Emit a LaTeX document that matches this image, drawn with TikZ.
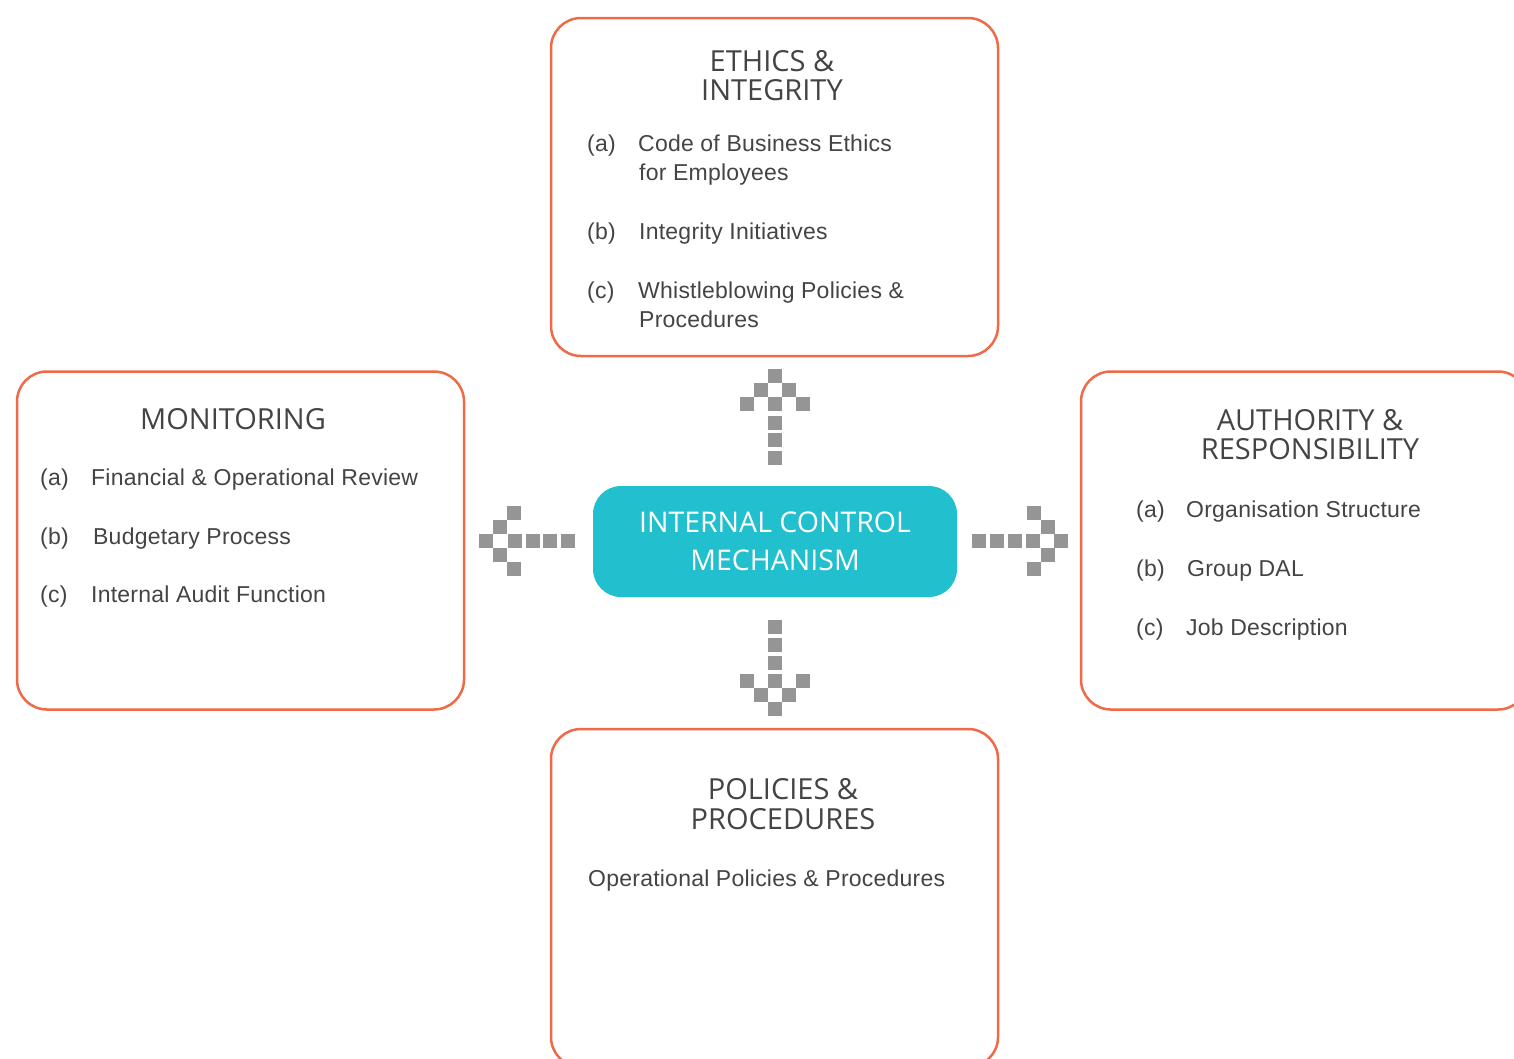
\documentclass[tikz,border=0pt]{standalone}
\usepackage{fontspec}
\setmainfont[LetterSpace=1]{Liberation Sans}
\newfontfamily\titlefont{Open Sans}
\definecolor{frameor}{HTML}{EF6A46}
\definecolor{cyanbox}{HTML}{22BFCF}
\definecolor{sqgray}{HTML}{959595}
\definecolor{txt}{HTML}{444444}
\begin{document}
\begin{tikzpicture}[x=1pt,y=-1pt,
  frame/.style={draw=frameor, line width=2.5pt, rounded corners=30pt, fill=white, minimum width=447pt, minimum height=338pt, inner sep=0},
  centerbox/.style={fill=cyanbox, draw=none, rounded corners=28pt, minimum width=364pt, minimum height=111pt, inner sep=0},
  title/.style={font=\titlefont\fontsize{29}{29}\selectfont, text=txt, anchor=base, inner sep=0},
  ctitle/.style={font=\titlefont\fontsize{28.5}{28.5}\selectfont, text=white, anchor=base, inner sep=0},
  item/.style={font=\fontsize{23}{23}\selectfont, text=txt, anchor=base west, inner sep=0},
  sq/.style={fill=sqgray, draw=none, rectangle, minimum size=14pt, inner sep=0}]
\useasboundingbox (0,0) rectangle (1514,1058);
\clip (0,0) rectangle (1514,1058);

% boxes
\node[frame] (ethics) at (774.5,187) {};
\node[frame] (monitor) at (240.5,540.5) {};
\node[frame] (author) at (1304.5,540.5) {};
\node[frame] (policy) at (774.5,898) {};
\node[centerbox] (icm) at (775,541.5) {};

% center text
\node[ctitle] (icm1) at (775,532) {INTERNAL CONTROL};
\node[ctitle] (icm2) at (775,570) {MECHANISM};

% ethics
\node[title] (et1) at (772,71) {ETHICS \&};
\node[title] (et2) at (772,100) {INTEGRITY};
\node[item] (eta) at (587,151) {(a)};
\node[item] (eta1) at (638,151) {Code of Business Ethics};
\node[item] (eta2) at (639,180) {for Employees};
\node[item] (etb) at (587,239) {(b)};
\node[item] (etb1) at (639,239) {Integrity Initiatives};
\node[item] (etc) at (587,298) {(c)};
\node[item] (etc1) at (638,298) {Whistleblowing Policies \&};
\node[item] (etc2) at (639,327) {Procedures};

% monitoring
\node[title] (mo1) at (233,429) {MONITORING};
\node[item] (moa) at (40,485) {(a)};
\node[item] (moa1) at (91,485) {Financial \& Operational Review};
\node[item] (mob) at (40,544) {(b)};
\node[item] (mob1) at (93,544) {Budgetary Process};
\node[item] (moc) at (40,602) {(c)};
\node[item] (moc1) at (91,602) {Internal Audit Function};

% authority
\node[title] (au1) at (1310,430) {AUTHORITY \&};
\node[title] (au2) at (1310,459) {RESPONSIBILITY};
\node[item] (aua) at (1136,517) {(a)};
\node[item] (aua1) at (1186,517) {Organisation Structure};
\node[item] (aub) at (1136,576) {(b)};
\node[item] (aub1) at (1187,576) {Group DAL};
\node[item] (auc) at (1136,635) {(c)};
\node[item] (auc1) at (1186,635) {Job Description};

% policies
\node[title] (po1) at (783,799) {POLICIES \&};
\node[title] (po2) at (783,829) {PROCEDURES};
\node[item] (poa1) at (588,886) {Operational Policies \& Procedures};

% up arrow
\node[sq] (u1) at (775,376) {};
\node[sq] (u2) at (761,390) {};
\node[sq] (u3) at (789,390) {};
\node[sq] (u4) at (747,404) {};
\node[sq] (u5) at (775,404) {};
\node[sq] (u6) at (803,404) {};
\node[sq] (u7) at (775,422.5) {};
\node[sq] (u8) at (775,440) {};
\node[sq] (u9) at (775,458) {};

% down arrow
\node[sq] (d1) at (775,627) {};
\node[sq] (d2) at (775,645) {};
\node[sq] (d3) at (775,663) {};
\node[sq] (d4) at (747,681) {};
\node[sq] (d5) at (775,681) {};
\node[sq] (d6) at (803,681) {};
\node[sq] (d7) at (761,695) {};
\node[sq] (d8) at (789,695) {};
\node[sq] (d9) at (775,708.5) {};

% left arrow
\node[sq] (l1) at (514,513) {};
\node[sq] (l2) at (500,527) {};
\node[sq] (l3) at (486,541) {};
\node[sq] (l4) at (515,541) {};
\node[sq] (l5) at (533,541) {};
\node[sq] (l6) at (550,541) {};
\node[sq] (l7) at (568,541) {};
\node[sq] (l8) at (500,555) {};
\node[sq] (l9) at (514,569) {};

% right arrow
\node[sq] (r1) at (979,541) {};
\node[sq] (r2) at (997,541) {};
\node[sq] (r3) at (1015,541) {};
\node[sq] (r4) at (1033,541) {};
\node[sq] (r5) at (1061,541) {};
\node[sq] (r6) at (1034,513) {};
\node[sq] (r7) at (1048,527) {};
\node[sq] (r8) at (1048,555) {};
\node[sq] (r9) at (1034,569) {};
\end{tikzpicture}
\end{document}
